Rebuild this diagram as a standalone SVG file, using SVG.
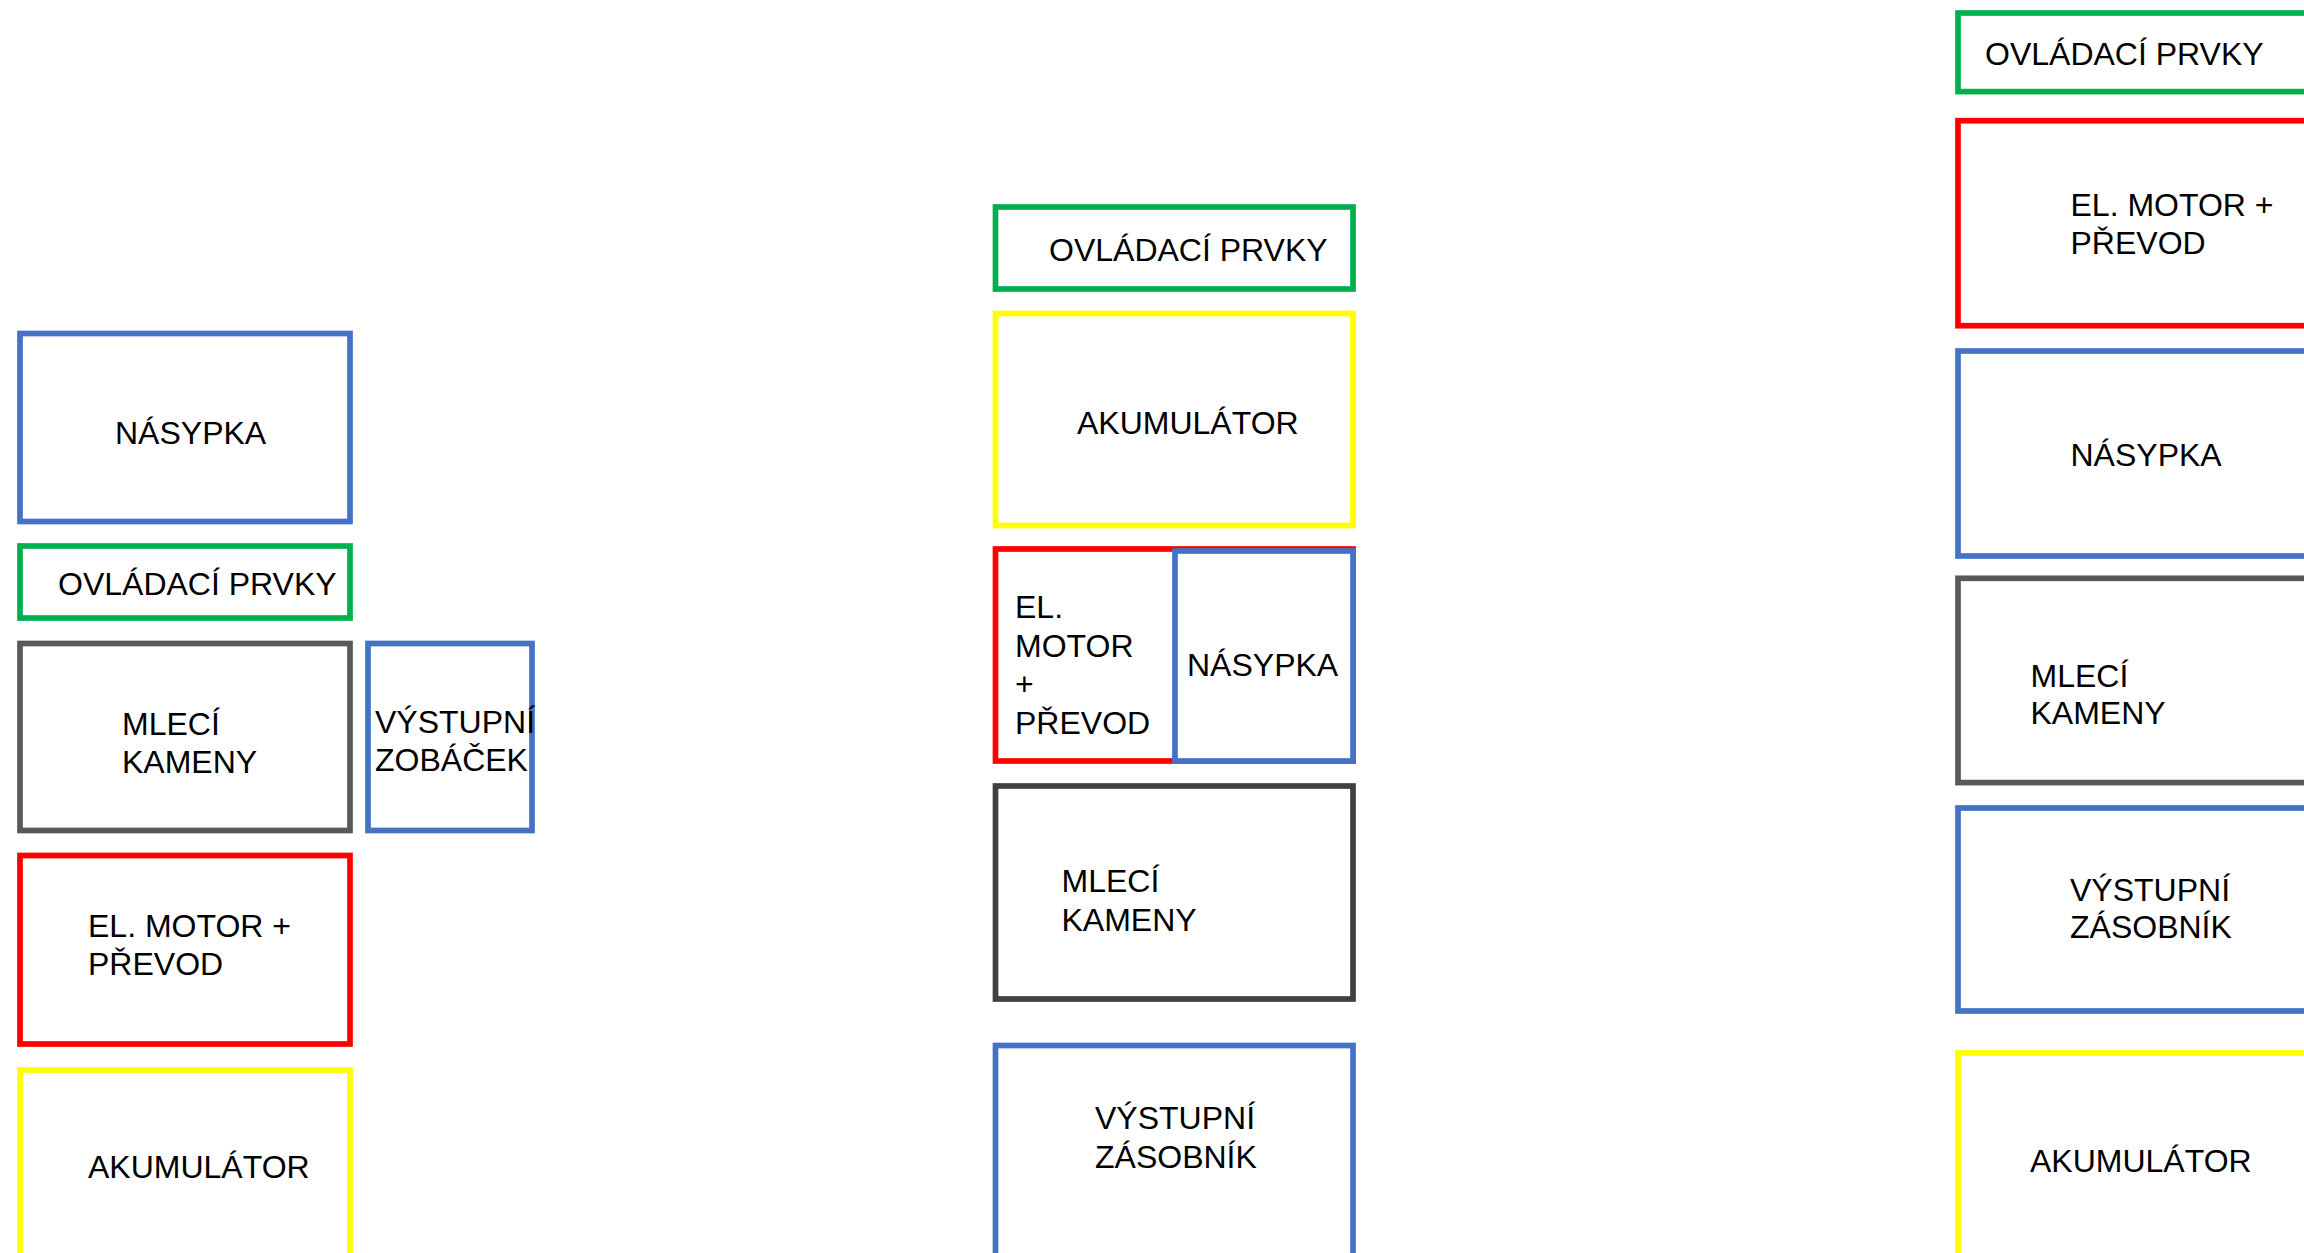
<svg xmlns="http://www.w3.org/2000/svg" width="2304" height="1253" viewBox="0 0 2304 1253">
<style>
.b{fill:#FFFFFF;stroke-width:5.7}
.blue{stroke:#4472C4}
.green{stroke:#00B050}
.red{stroke:#FF0000}
.yellow{stroke:#FFFF00}
.gray{stroke:#595959}
.dark{stroke:#404040}
text{font-family:"Liberation Sans",Arial,sans-serif;font-size:32px;fill:#000000}
</style>
<rect width="2304" height="1253" fill="#FFFFFF"/>
<g id="connectors"></g>
<!-- Left column -->
<g id="l-nasypka"><rect class="b blue" x="20" y="333.5" width="330" height="188"/><text x="115" y="444">NÁSYPKA</text></g>
<g id="l-ovladaci"><rect class="b green" x="20" y="546" width="330" height="72"/><text x="58" y="595">OVLÁDACÍ PRVKY</text></g>
<g id="l-mleci"><rect class="b gray" x="20" y="643.5" width="330" height="187"/><text x="122" y="735">MLECÍ</text><text x="122" y="773.4">KAMENY</text></g>
<g id="l-zobacek"><rect class="b blue" x="368" y="643.5" width="164" height="187"/><text x="375" y="732.7">VÝSTUPNÍ</text><text x="375" y="771">ZOBÁČEK</text></g>
<g id="l-motor"><rect class="b red" x="20" y="855.5" width="330" height="188.5"/><text x="88" y="936.7">EL. MOTOR +</text><text x="88" y="975">PŘEVOD</text></g>
<g id="l-akumulator"><rect class="b yellow" x="20" y="1070" width="330" height="220"/><text x="88" y="1178.3">AKUMULÁTOR</text></g>
<!-- Middle column -->
<g id="m-ovladaci"><rect class="b green" x="995.5" y="207" width="357.5" height="82"/><text x="1049" y="260.7">OVLÁDACÍ PRVKY</text></g>
<g id="m-akumulator"><rect class="b yellow" x="995.5" y="313.5" width="357.5" height="212"/><text x="1077" y="434">AKUMULÁTOR</text></g>
<g id="m-motor"><rect class="b red" x="995.5" y="549" width="357.5" height="212"/><text x="1015" y="618.3">EL.</text><text x="1015" y="656.7">MOTOR</text><text x="1015" y="695.1">+</text><text x="1015" y="733.5">PŘEVOD</text></g>
<g id="m-nasypka"><rect class="b blue" x="1175" y="551" width="178" height="210"/><text x="1187" y="676">NÁSYPKA</text></g>
<g id="m-mleci"><rect class="b dark" x="995.5" y="786" width="357.5" height="213"/><text x="1061.5" y="892.3">MLECÍ</text><text x="1061.5" y="930.7">KAMENY</text></g>
<g id="m-zasobnik"><rect class="b blue" x="995.5" y="1045.5" width="357.5" height="240"/><text x="1095" y="1129.3">VÝSTUPNÍ</text><text x="1095" y="1168">ZÁSOBNÍK</text></g>
<!-- Right column -->
<g id="r-ovladaci"><rect class="b green" x="1958" y="13" width="360" height="78.6"/><text x="1985" y="65.4">OVLÁDACÍ PRVKY</text></g>
<g id="r-motor"><rect class="b red" x="1958" y="120.7" width="360" height="205"/><text x="2070.5" y="216">EL. MOTOR +</text><text x="2070.5" y="254.3">PŘEVOD</text></g>
<g id="r-nasypka"><rect class="b blue" x="1958" y="351" width="360" height="205"/><text x="2070.5" y="466">NÁSYPKA</text></g>
<g id="r-mleci"><rect class="b gray" x="1958" y="578.3" width="360" height="204.3"/><text x="2030.5" y="687">MLECÍ</text><text x="2030.5" y="724">KAMENY</text></g>
<g id="r-zasobnik"><rect class="b blue" x="1958" y="808" width="360" height="203"/><text x="2070" y="900.5">VÝSTUPNÍ</text><text x="2070" y="938">ZÁSOBNÍK</text></g>
<g id="r-akumulator"><rect class="b yellow" x="1958" y="1053" width="360" height="240"/><text x="2030" y="1172">AKUMULÁTOR</text></g>
</svg>
